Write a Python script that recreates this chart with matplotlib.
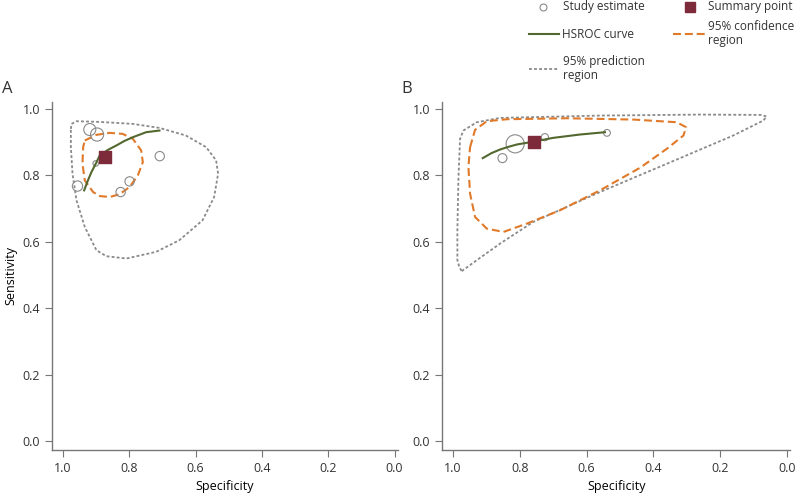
import matplotlib.pyplot as plt
from matplotlib.lines import Line2D

plt.rcParams['font.family'] = ['Open Sans', 'DejaVu Sans']
plt.rcParams['text.color'] = '#333333'

# ---- Panel A data ----
a_study_spec = [0.919, 0.897, 0.901, 0.956, 0.826, 0.799, 0.708]
a_study_sens = [0.937, 0.922, 0.835, 0.767, 0.749, 0.781, 0.857]
a_study_weight = [75, 90, 16, 55, 45, 45, 45]
a_summary = (0.874, 0.854)

a_hsroc_spec = [0.936, 0.925, 0.914, 0.900, 0.889, 0.864, 0.839, 0.814, 0.789, 0.749, 0.709]
a_hsroc_sens = [0.754, 0.783, 0.809, 0.836, 0.859, 0.876, 0.889, 0.903, 0.914, 0.929, 0.934]

a_conf_spec = [0.934, 0.899, 0.859, 0.820, 0.789, 0.764, 0.759, 0.774, 0.799, 0.830, 0.859, 0.889,
               0.909, 0.934, 0.941, 0.939, 0.934]
a_conf_sens = [0.904, 0.921, 0.927, 0.924, 0.909, 0.874, 0.839, 0.799, 0.764, 0.742, 0.734, 0.737,
               0.749, 0.784, 0.834, 0.884, 0.904]

a_pred_spec = [0.976, 0.974, 0.959, 0.889, 0.789, 0.709, 0.629, 0.568, 0.538, 0.532, 0.544, 0.579,
               0.649, 0.719, 0.809, 0.869, 0.899, 0.934, 0.959, 0.971, 0.976, 0.976]
a_pred_sens = [0.939, 0.954, 0.962, 0.960, 0.954, 0.942, 0.919, 0.884, 0.844, 0.804, 0.734, 0.664,
               0.604, 0.569, 0.549, 0.556, 0.574, 0.644, 0.724, 0.804, 0.884, 0.939]

# ---- Panel B data ----
b_study_spec = [0.814, 0.852, 0.725, 0.539]
b_study_sens = [0.894, 0.851, 0.914, 0.927]
b_study_weight = [170, 42, 27, 24]
b_summary = (0.757, 0.899)

b_hsroc_spec = [0.911, 0.885, 0.859, 0.834, 0.809, 0.757, 0.700, 0.660, 0.620, 0.545]
b_hsroc_sens = [0.851, 0.866, 0.877, 0.885, 0.892, 0.901, 0.912, 0.917, 0.922, 0.929]

b_conf_spec = [0.949, 0.934, 0.899, 0.839, 0.660, 0.460, 0.330, 0.302, 0.310, 0.360, 0.440, 0.560,
               0.680, 0.779, 0.849, 0.899, 0.934, 0.949, 0.954, 0.949]
b_conf_sens = [0.884, 0.936, 0.962, 0.968, 0.971, 0.967, 0.959, 0.944, 0.919, 0.879, 0.822, 0.754,
               0.694, 0.654, 0.629, 0.639, 0.674, 0.744, 0.824, 0.884]

b_pred_spec = [0.974, 0.929, 0.859, 0.760, 0.560, 0.360, 0.161, 0.071, 0.061, 0.076, 0.260, 0.560,
               0.859, 0.929, 0.969, 0.979, 0.984, 0.987, 0.987, 0.981, 0.974]
b_pred_sens = [0.511, 0.544, 0.594, 0.659, 0.749, 0.834, 0.919, 0.964, 0.976, 0.981, 0.982, 0.979,
               0.972, 0.959, 0.934, 0.909, 0.784, 0.634, 0.544, 0.523, 0.511]

green = '#52682f'
orange = '#e07a2a'
grey = '#8a8a8a'
maroon = '#7d2b3b'
axcol = '#777777'
pred_ls = (0, (1.6, 1.2))
conf_ls = (0, (3.8, 1.9))

fig = plt.figure(figsize=(7.97, 4.93), dpi=100)
axA = fig.add_axes([0.0652, 0.0872, 0.434, 0.706])
axB = fig.add_axes([0.5546, 0.0872, 0.437, 0.706])

panels = [
    (axA, a_study_spec, a_study_sens, a_study_weight, a_summary, a_hsroc_spec, a_hsroc_sens,
     a_conf_spec, a_conf_sens, a_pred_spec, a_pred_sens),
    (axB, b_study_spec, b_study_sens, b_study_weight, b_summary, b_hsroc_spec, b_hsroc_sens,
     b_conf_spec, b_conf_sens, b_pred_spec, b_pred_sens),
]

for (ax, ss, se, w, summ, hs, hse, cs, cse, ps, pse) in panels:
    ax.plot(ps, pse, color=grey, lw=1.3, ls=pred_ls)
    ax.plot(cs, cse, color=orange, lw=1.5, ls=conf_ls)
    ax.scatter(ss, se, s=w, facecolors='none', edgecolors=grey, linewidths=0.8, zorder=3)
    ax.plot(hs, hse, color=green, lw=1.5, zorder=4, solid_joinstyle='round')
    ax.scatter([summ[0]], [summ[1]], marker='s', s=75, color=maroon, zorder=5)

    ax.set_xlim(1.033, -0.01)
    ax.set_ylim(-0.027, 1.02)
    ax.set_xticks([1.0, 0.8, 0.6, 0.4, 0.2, 0.0])
    ax.set_yticks([0.0, 0.2, 0.4, 0.6, 0.8, 1.0])
    ax.xaxis.set_major_formatter(plt.FormatStrFormatter('%.1f'))
    ax.yaxis.set_major_formatter(plt.FormatStrFormatter('%.1f'))
    for sp in ['top', 'right']:
        ax.spines[sp].set_visible(False)
    for sp in ['left', 'bottom']:
        ax.spines[sp].set_color(axcol)
        ax.spines[sp].set_linewidth(1.0)
    ax.tick_params(direction='out', length=5, color=axcol, labelsize=9, labelcolor='#333333')
    ax.set_xlabel('Specificity', fontsize=9)

axA.set_ylabel('Sensitivity', fontsize=9)
fig.text(0.003, 0.82, 'A', fontsize=12, va='center')
fig.text(0.503, 0.82, 'B', fontsize=12, va='center')

# legend, drawn by hand so the rows line up as in the original
W, H = 797.0, 493.0


def fx(px):
    return px / W


def fy(py):
    return 1 - py / H


fig.add_artist(Line2D([fx(543)], [fy(6.5)], marker='o', ls='none', markerfacecolor='none',
                      markeredgecolor=grey, markeredgewidth=0.8, markersize=5))
fig.text(fx(563), fy(6.5), 'Study estimate', fontsize=8.5, va='center')
fig.add_artist(Line2D([fx(690)], [fy(6.5)], marker='s', ls='none', color=maroon, markersize=7))
fig.text(fx(708), fy(6.5), 'Summary point', fontsize=8.5, va='center')
fig.add_artist(Line2D([fx(529), fx(559)], [fy(34), fy(34)], color=green, lw=1.5))
fig.text(fx(562), fy(34), 'HSROC curve', fontsize=8.5, va='center')
fig.add_artist(Line2D([fx(673), fx(708)], [fy(34), fy(34)], color=orange, lw=1.5, ls=conf_ls))
fig.text(fx(708), fy(33.5), '95% confidence\nregion', fontsize=8.5, va='center', linespacing=1.15)
fig.add_artist(Line2D([fx(529), fx(559)], [fy(69), fy(69)], color=grey, lw=1.3, ls=pred_ls))
fig.text(fx(563), fy(68.5), '95% prediction\nregion', fontsize=8.5, va='center', linespacing=1.15)

fig.savefig('out.png', dpi=100)
